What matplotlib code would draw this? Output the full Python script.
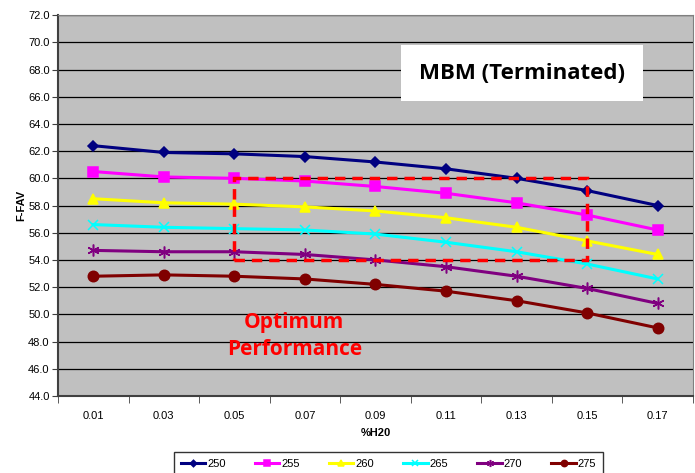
import matplotlib.pyplot as plt
from matplotlib.patches import Rectangle

# ── Data ──────────────────────────────────────────────────────────────────────
H2O = ["0.01", "0.03", "0.05", "0.07", "0.09", "0.11", "0.13", "0.15", "0.17"]
SERIES_NAMES = ["250", "255", "260", "265", "270", "275"]
V250 = [62.4, 61.9, 61.8, 61.6, 61.2, 60.7, 60.0, 59.1, 58.0]
V255 = [60.5, 60.1, 60.0, 59.8, 59.4, 58.9, 58.2, 57.3, 56.2]
V260 = [58.5, 58.2, 58.1, 57.9, 57.6, 57.1, 56.4, 55.4, 54.4]
V265 = [56.6, 56.4, 56.3, 56.2, 55.9, 55.3, 54.6, 53.7, 52.6]
V270 = [54.7, 54.6, 54.6, 54.4, 54.0, 53.5, 52.8, 51.9, 50.8]
V275 = [52.8, 52.9, 52.8, 52.6, 52.2, 51.7, 51.0, 50.1, 49.0]
VALUES = [V250, V255, V260, V265, V270, V275]

# optimum window: from 0.05 to 0.15, F-FAV 54 to 60
OPT_X = ("0.05", "0.15")
OPT_Y = (54.0, 60.0)

# ── Style ─────────────────────────────────────────────────────────────────────
COLORS = ["#000080", "#FF00FF", "#FFFF00", "#00FFFF", "#800080", "#800000"]
MARKERS = ["D", "s", "^", "x", (6, 2, 0), "o"]
MSIZES = [5.5, 7.5, 7.5, 7.5, 8.5, 7.5]

plt.rcParams["font.family"] = ["Liberation Sans", "DejaVu Sans"]

fig = plt.figure(figsize=(6.95, 4.73), dpi=100)
ax = fig.add_axes([0.0835, 0.163, 0.9135, 0.805])
ax.set_facecolor("#C0C0C0")

xs = list(range(len(H2O)))
for name, vals, c, m, ms in zip(SERIES_NAMES, VALUES, COLORS, MARKERS, MSIZES):
    ax.plot(xs, vals, color=c, lw=2.2, marker=m, markersize=ms,
            markeredgewidth=1.1, markeredgecolor=c, label=name, zorder=3)

x0, x1 = H2O.index(OPT_X[0]), H2O.index(OPT_X[1])
ax.add_patch(Rectangle((x0, OPT_Y[0]), x1 - x0, OPT_Y[1] - OPT_Y[0],
                       fill=False, edgecolor="red", lw=2.5,
                       linestyle=(0, (3, 2)), zorder=4))

ax.set_xlim(-0.5, len(H2O) - 0.5)
ax.set_ylim(44, 72)
ax.set_yticks([44 + 2 * i for i in range(15)])
ax.set_yticklabels([f"{44 + 2 * i:.1f}" for i in range(15)], fontsize=8)
ax.set_xticks(xs)
ax.set_xticklabels(H2O, fontsize=8)
ax.tick_params(axis="x", which="major", length=0, pad=11)
ax.set_xticks([i + 0.5 for i in range(-1, len(H2O))], minor=True)
ax.tick_params(axis="x", which="minor", length=5, direction="out", color="#404040")
ax.tick_params(axis="y", length=4, direction="out", color="#404040", pad=2)
ax.yaxis.grid(True, color="black", lw=0.9)
ax.set_axisbelow(True)
for side in ["top", "right"]:
    ax.spines[side].set_color("#808080")
for side in ["left", "bottom"]:
    ax.spines[side].set_color("#404040")
    ax.spines[side].set_linewidth(1.5)

ax.set_xlabel("%H20", fontsize=8, fontweight="bold", labelpad=5)
ax.set_ylabel("F-FAV", fontsize=8, fontweight="bold", labelpad=1)

ax.text(0.731, 0.848, "MBM (Terminated)", transform=ax.transAxes,
        ha="center", va="center", fontsize=16, fontweight="bold",
        family=["Open Sans", "DejaVu Sans"], zorder=5,
        bbox=dict(boxstyle="square,pad=0.8", fc="white", ec="none"))
ax.text(x0 + 0.85, 48.4, "Optimum\nPerformance", ha="center", va="center",
        fontsize=15, fontweight="bold", color="red", linespacing=1.35,
        family=["Open Sans", "DejaVu Sans"], zorder=5)

leg = fig.legend(loc="upper center", bbox_to_anchor=(388.5 / 695, 21 / 473),
                 ncol=6, fontsize=8, frameon=True, fancybox=False,
                 edgecolor="black", handlelength=2.2, columnspacing=2.65,
                 handletextpad=0.15, borderpad=0.6, borderaxespad=0,
                 markerscale=0.6)
leg.get_frame().set_linewidth(1)

fig.savefig("out.png", dpi=100)
